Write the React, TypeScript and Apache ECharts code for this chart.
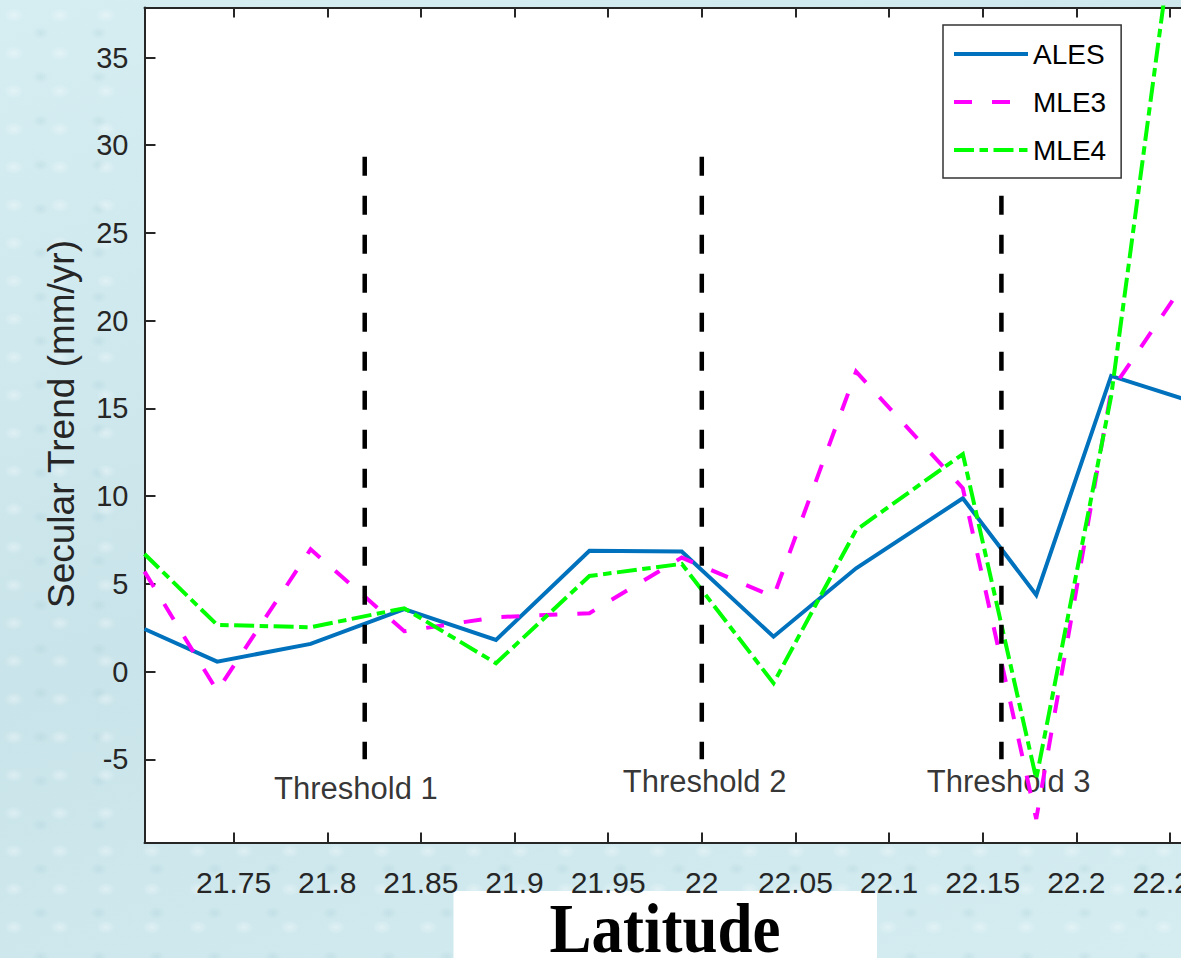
import React, { useEffect, useRef } from "react";
import * as echarts from "echarts";

// ---- data ----
const latitude = [21.7024, 21.7412, 21.7911, 21.8411, 21.8901, 21.94, 21.9893, 22.0383, 22.0824, 22.1394, 22.1786, 22.2186, 22.26];
const ales = [2.43, 0.57, 1.58, 3.56, 1.81, 6.89, 6.84, 1.99, 5.89, 9.88, 4.37, 16.85, 15.45];
const mle3 = [5.7, -1.1, 6.97, 2.3, 3.1, 3.33, 6.5, 4.27, 17.1, 10.45, -8.4, 16.0, 22.5];
const mle4 = [6.7, 2.66, 2.53, 3.61, 0.48, 5.45, 6.14, -0.66, 8.07, 12.4, -6.1, 15.7, 48.8];

const thresholdLat = [21.82, 22.0, 22.16];
const thresholdSpan = [29.35, -5];
const thresholdNames = ["Threshold 1", "Threshold 2", "Threshold 3"];
const thresholdLabelLat = [21.8153, 22.0015, 22.1639];
const thresholdLabelValue = [-6.68, -6.28, -6.28];

const xTicks = [21.75, 21.8, 21.85, 21.9, 21.95, 22, 22.05, 22.1, 22.15, 22.2, 22.25];
const yTicks = [-5, 0, 5, 10, 15, 20, 25, 30, 35];
const xRange = [21.7024, 22.2559];
const yRange = [-9.74, 37.85];

const SANS = '"Liberation Sans", Arial, Helvetica, sans-serif';
const AXIS = "#262626";

export default function App() {
  const ref = useRef<HTMLDivElement | null>(null);

  useEffect(() => {
    if (!ref.current) return;
    const chart = echarts.init(ref.current, null, { renderer: "svg" });
    const fmt = (v: number) => String(+Number(v).toFixed(2));

    const lineSeries = (name: string, values: number[], color: string, type: any, z: number) => ({
      name,
      type: "line",
      data: latitude.map((x, i) => [x, values[i]]),
      symbol: "none",
      showSymbol: false,
      clip: true,
      z,
      lineStyle: { color, width: 4, type, cap: "butt", join: "miter" },
      itemStyle: { color },
      emphasis: { disabled: true },
    });

    const thresholdSeries = thresholdLat.map((x, i) => ({
      name: thresholdNames[i],
      type: "line",
      data: thresholdSpan.map((v) => [x, v]),
      symbol: "none",
      z: 5,
      silent: true,
      lineStyle: { color: "#000", width: 4.5, type: [19, 20], cap: "butt" },
      emphasis: { disabled: true },
    }));

    chart.setOption({
      animation: false,
      backgroundColor: "transparent",
      grid: {
        left: 144.5,
        top: 7.5,
        right: 0,
        bottom: 115.5,
        outerBoundsMode: "none",
        containLabel: false,
        show: true,
        backgroundColor: "#ffffff",
        borderWidth: 0,
      },
      legend: {
        data: ["ALES", "MLE3", "MLE4"],
        orient: "vertical",
        left: 943,
        top: 25,
        itemWidth: 74,
        itemHeight: 20,
        itemGap: 20,
        padding: [15, 15, 14, 9],
        backgroundColor: "#ffffff",
        borderColor: "#333333",
        borderWidth: 1.5,
        borderRadius: 0,
        itemStyle: { opacity: 0 },
        lineStyle: { width: 4 },
        textStyle: { fontSize: 28, color: "#000", fontFamily: SANS },
        selectedMode: false,
        z: 10,
      },
      xAxis: [
        {
          type: "value",
          position: "bottom",
          min: xRange[0],
          max: xRange[1],
          axisLine: { show: true, onZero: false, lineStyle: { color: AXIS, width: 2 } },
          axisTick: { show: true, inside: true, length: 10, customValues: xTicks, lineStyle: { color: AXIS, width: 2 } },
          axisLabel: {
            show: true,
            customValues: xTicks,
            formatter: fmt,
            fontSize: 30,
            margin: 25,
            color: AXIS,
            fontFamily: SANS,
            hideOverlap: false,
          },
          splitLine: { show: false },
        },
        {
          type: "value",
          position: "top",
          min: xRange[0],
          max: xRange[1],
          axisLine: { show: true, onZero: false, lineStyle: { color: AXIS, width: 2 } },
          axisTick: { show: true, inside: true, length: 10, customValues: xTicks, lineStyle: { color: AXIS, width: 2 } },
          axisLabel: { show: false },
          splitLine: { show: false },
        },
      ],
      yAxis: {
        type: "value",
        min: yRange[0],
        max: yRange[1],
        axisLine: { show: true, onZero: false, lineStyle: { color: AXIS, width: 2 } },
        axisTick: { show: true, inside: true, length: 11, customValues: yTicks, lineStyle: { color: AXIS, width: 2 } },
        axisLabel: {
          show: true,
          customValues: yTicks,
          formatter: fmt,
          fontSize: 29,
          margin: 16,
          color: AXIS,
          fontFamily: SANS,
        },
        splitLine: { show: false },
      },
      series: [
        {
          name: "labels",
          type: "scatter",
          data: thresholdLabelLat.map((x, i) => ({ value: [x, thresholdLabelValue[i]], name: thresholdNames[i] })),
          symbolSize: 1,
          itemStyle: { color: "rgba(0,0,0,0)" },
          silent: true,
          z: 1,
          label: {
            show: true,
            position: "inside",
            formatter: "{b}",
            fontSize: 31,
            color: "#000",
            fontFamily: SANS,
            textBorderWidth: 0,
          },
          emphasis: { disabled: true },
        },
        lineSeries("ALES", ales, "#0072BD", "solid", 2),
        lineSeries("MLE3", mle3, "#FF00FF", [18, 20], 3),
        lineSeries("MLE4", mle4, "#00FF00", [20, 5.5, 8.5, 5.5], 4),
        ...thresholdSeries,
      ],
      graphic: [
        {
          type: "text",
          x: 61.5,
          y: 424,
          rotation: Math.PI / 2,
          silent: true,
          style: {
            text: "Secular Trend (mm/yr)",
            fontSize: 37,
            fontFamily: SANS,
            fill: AXIS,
            textAlign: "center",
            textVerticalAlign: "middle",
          },
        },
        {
          type: "rect",
          silent: true,
          shape: { x: 453.5, y: 891, width: 423.5, height: 67 },
          style: { fill: "#ffffff" },
        },
        {
          type: "text",
          x: 665,
          y: 928,
          scaleX: 0.9,
          silent: true,
          style: {
            text: "Latitude",
            font: 'bold 70px "Liberation Serif", "Times New Roman", serif',
            lineHeight: 50,
            fill: "#000",
            textAlign: "center",
            textVerticalAlign: "middle",
          },
        },
      ],
    });

    return () => chart.dispose();
  }, []);

  const bg: React.CSSProperties = {
    position: "absolute",
    left: 0,
    top: 0,
    width: 1181,
    height: 958,
    overflow: "hidden",
    backgroundColor: "#d0e9ee",
    backgroundImage:
      "radial-gradient(ellipse 14px 10px at 30% 40%, rgba(255,255,255,0.35), rgba(255,255,255,0) 70%)," +
      "radial-gradient(ellipse 12px 9px at 70% 75%, rgba(160,200,210,0.25), rgba(160,200,210,0) 70%)," +
      "linear-gradient(160deg, #d6eef2 0%, #c9e4ea 50%, #d5edf1 100%)",
    backgroundSize: "46px 38px, 58px 44px, 100% 100%",
  };

  return (
    <div style={bg}>
      <div ref={ref} style={{ width: 1181, height: 958 }} />
    </div>
  );
}
